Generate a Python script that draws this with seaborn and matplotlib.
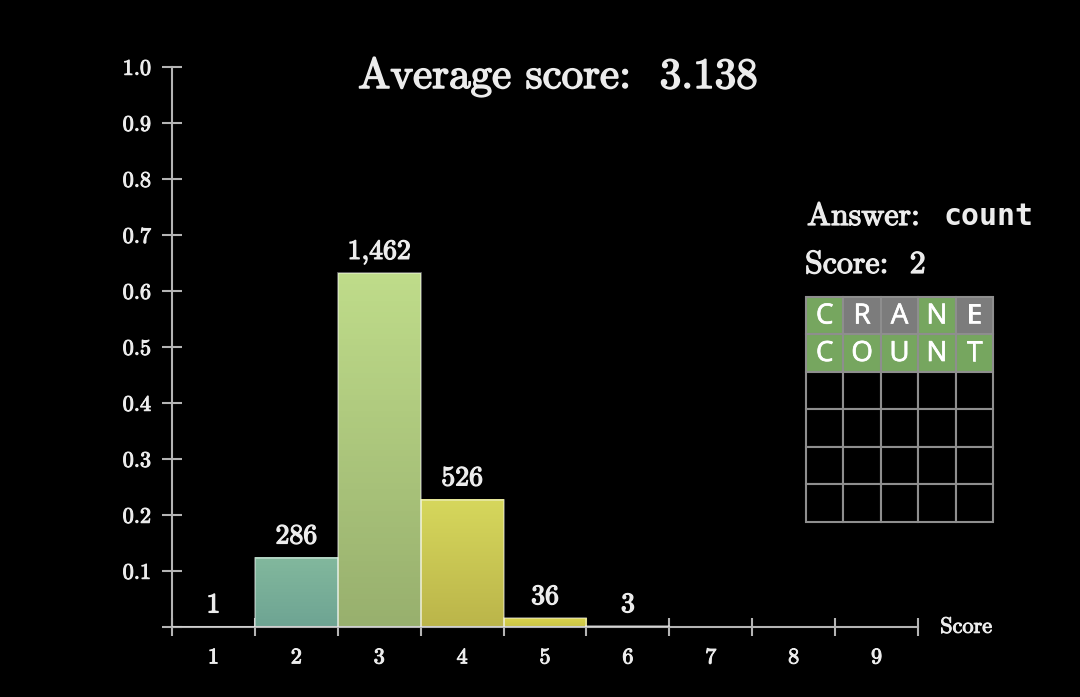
import numpy as np
import pandas as pd
import seaborn as sns
import matplotlib
matplotlib.use('Agg')
import matplotlib.pyplot as plt
import matplotlib.patheffects as pe
from matplotlib.patches import Rectangle
from matplotlib.colors import to_rgb

# Datos del histograma (número de partidas por puntuación)
scores = [1, 2, 3, 4, 5, 6]
counts = [1, 286, 1462, 526, 36, 3]
x_tick_labels = ['1', '2', '3', '4', '5', '6', '7', '8', '9']
y_tick_values = [0.1, 0.2, 0.3, 0.4, 0.5, 0.6, 0.7, 0.8, 0.9, 1.0]
y_tick_labels = ['0.1', '0.2', '0.3', '0.4', '0.5', '0.6', '0.7', '0.8', '0.9', '1.0']

# colores de las barras (arriba / abajo del degradado)
bar_top = ['#62a3a6', '#82b89d', '#bfdc8a', '#d6d75c', '#d9d34e', '#d9d34e']
bar_bottom = ['#5a9596', '#6ea493', '#98b06e', '#bbb54a', '#cbc446', '#cbc446']

# Tablero del ejemplo
answer = 'count'
guesses = ['CRANE', 'COUNT']
patterns = ['gxxgx', 'ggggg']
n_rows = 6

text_color = '#ececec'
axis_color = '#b4b4b4'
green = '#76a65f'
grey = '#7c7c7c'

sns.set_theme(style='dark')
plt.rcParams['font.family'] = ['cmr10', 'DejaVu Serif']
plt.rcParams['axes.formatter.use_mathtext'] = True

# trazo fino para engrosar el texto como en el vídeo
bold_fx = [pe.withStroke(linewidth=0.9, foreground=text_color)]
thin_fx = [pe.withStroke(linewidth=0.7, foreground=text_color)]

df = pd.DataFrame({'score': scores, 'count': counts})
df['frac'] = df['count'] / df['count'].sum()
average = (df['score'] * df['count']).sum() / df['count'].sum()

fig = plt.figure(figsize=(10.8, 6.97), dpi=100, facecolor='black')
ax = fig.add_axes([172 / 1080, 70 / 697, 746 / 1080, 560 / 697])
ax.set_facecolor('black')

sns.barplot(data=df, x='score', y='frac', hue='score',
            palette=dict(zip(scores, bar_top)), native_scale=True,
            width=1, legend=False, ax=ax,
            edgecolor=(1, 1, 1, 0.45), linewidth=1.2)

# degradado vertical en cada barra
grad = np.linspace(0, 1, 64)[:, None]
for patch in list(ax.patches):
    x0, y0 = patch.get_x(), patch.get_y()
    w, h = patch.get_width(), patch.get_height()
    i = scores.index(int(round(x0 + w / 2)))
    cols = np.array(to_rgb(bar_top[i])) * (1 - grad) + np.array(to_rgb(bar_bottom[i])) * grad
    ax.imshow(cols[:, None, :], extent=[x0, x0 + w, y0, y0 + h], origin='upper',
              aspect='auto', clip_path=patch, zorder=2)
    patch.set_facecolor('none')
    patch.set_zorder(3)

# etiquetas con el número de partidas
for s, c, f in zip(df['score'], df['count'], df['frac']):
    ax.annotate('{:,}'.format(c), xy=(s, f), xytext=(0, 6), textcoords='offset points',
                ha='center', va='bottom', color=text_color, fontsize=20,
                path_effects=bold_fx)

ax.set_xlim(0.5, 9.5)
ax.set_ylim(0, 1.0)
ax.set_xlabel('')
ax.set_ylabel('')
ax.grid(False)

ax.set_xticks(range(1, 10))
ax.set_xticklabels(x_tick_labels)
ax.set_xticks(np.arange(0.5, 10, 1), minor=True)
ax.tick_params(axis='x', which='major', bottom=True, length=0, pad=15,
               labelsize=16, labelcolor=text_color)
ax.tick_params(axis='x', which='minor', bottom=True, direction='inout', length=13,
               width=1.5, color=axis_color)

ax.set_yticks([0] + y_tick_values)
ax.set_yticklabels([''] + y_tick_labels)
ax.tick_params(axis='y', left=True, direction='inout', length=14, width=1.5,
               color=axis_color, labelsize=16, labelcolor=text_color, pad=8)
for lab in ax.get_xticklabels() + ax.get_yticklabels():
    lab.set_path_effects(thin_fx)

for side in ['top', 'right']:
    ax.spines[side].set_visible(False)
for side in ['left', 'bottom']:
    ax.spines[side].set_visible(True)
    ax.spines[side].set_color(axis_color)
    ax.spines[side].set_linewidth(1.5)

ax.annotate('Score', xy=(1, 0), xycoords='axes fraction', xytext=(16, 0),
            textcoords='offset points', ha='left', va='center',
            color=text_color, fontsize=16, path_effects=thin_fx)

fig.text(558 / 1080, 1 - 88 / 697, 'Average score:  {:.3f}'.format(average),
         ha='center', va='baseline', color=text_color, fontsize=31,
         path_effects=[pe.withStroke(linewidth=1.1, foreground=text_color)])

fig.text(807 / 1080, 1 - 225 / 697, 'Answer:', ha='left', va='baseline',
         color=text_color, fontsize=23, path_effects=bold_fx)
fig.text(943 / 1080, 1 - 225 / 697, answer, ha='left', va='baseline',
         color=text_color, fontsize=21.5, family='DejaVu Sans Mono', weight='bold')
fig.text(805 / 1080, 1 - 273 / 697, 'Score:  {}'.format(len(guesses)), ha='left',
         va='baseline', color=text_color, fontsize=23, path_effects=bold_fx)

# tablero de Wordle
gax = fig.add_axes([806 / 1080, 1 - 522 / 697, 187 / 1080, 225 / 697])
gax.set_xlim(0, 5)
gax.set_ylim(n_rows, 0)
gax.axis('off')
for r in range(n_rows):
    for c in range(5):
        fc = 'black'
        if r < len(guesses):
            fc = green if patterns[r][c] == 'g' else grey
        gax.add_patch(Rectangle((c, r), 1, 1, facecolor=fc, edgecolor='#8e8e8e',
                                linewidth=1.5, clip_on=False))
        if r < len(guesses):
            gax.text(c + 0.5, r + 0.52, guesses[r][c], ha='center', va='center',
                     color='white', fontsize=20, family='Open Sans', weight='medium',
                     path_effects=[pe.withStroke(linewidth=0.5, foreground='white')])

fig.savefig('out.png', dpi=100, facecolor='black')
